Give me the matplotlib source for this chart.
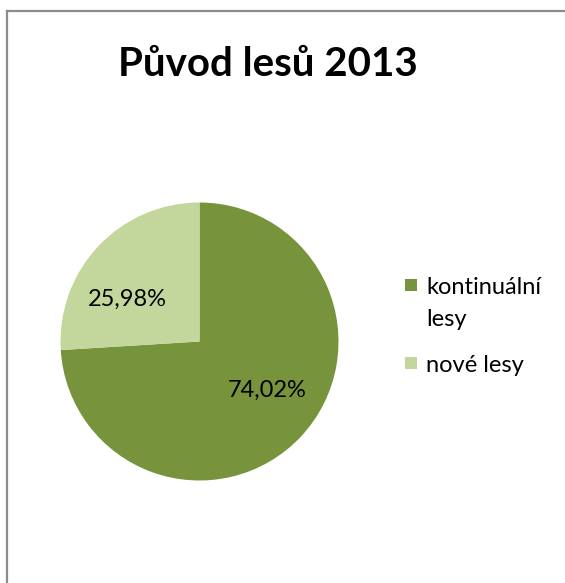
import matplotlib
matplotlib.use("Agg")
import matplotlib.pyplot as plt
from matplotlib.lines import Line2D
from matplotlib.patches import Rectangle

categories = ["kontinuální\nlesy", "nové lesy"]
values = [74.02, 25.98]
value_labels = ["74,02%", "25,98%"]
colors = ["#77933C", "#C3D69B"]
title = "Původ lesů 2013"

W, H = 565, 583
fig = plt.figure(figsize=(W / 100, H / 100), dpi=100)
fig.patch.set_facecolor("white")
FONT = ["Lato", "DejaVu Sans"]

# border (only top and left visible in the reference)
fig.add_artist(Line2D([6.5 / W, 6.5 / W], [0, 1 - 10.5 / H], transform=fig.transFigure,
                      color="#8c8c8c", lw=1.6))
fig.add_artist(Line2D([6.5 / W, 1], [1 - 10.5 / H, 1 - 10.5 / H], transform=fig.transFigure,
                      color="#8c8c8c", lw=1.6))

cx, cy, r = 199.5, 341.5, 139
ax = fig.add_axes([(cx - r) / W, (H - cy - r) / H, 2 * r / W, 2 * r / H])
wedges, texts = ax.pie(values, colors=colors, startangle=90, counterclock=False,
                       radius=1, wedgeprops=dict(linewidth=0))
ax.set_xlim(-1, 1)
ax.set_ylim(-1, 1)
ax.axis("off")

label_pos = [(0.49, -0.35), (-0.52, 0.30)]
for lab, pos in zip(value_labels, label_pos):
    ax.text(pos[0], pos[1], lab, ha="center", va="center", fontsize=17,
            family=FONT, color="black")

fig.text(268 / W, 1 - 64 / H, title, ha="center", va="center", fontsize=29,
         fontweight="bold", family=FONT)

# legend
leg_y = [285, 363]  # first-line centres in px
for cat, col, y in zip(categories, colors, leg_y):
    fig.add_artist(Rectangle((405 / W, 1 - (y + 6) / H), 12 / W, 12 / H,
                             transform=fig.transFigure, facecolor=col, edgecolor="none"))
    lines = cat.split("\n")
    for i, ln in enumerate(lines):
        fig.text(426 / W, 1 - (y + i * 33) / H, ln, ha="left", va="center_baseline",
                 fontsize=17, family=FONT)

fig.savefig("out.png", dpi=100, facecolor="white")
